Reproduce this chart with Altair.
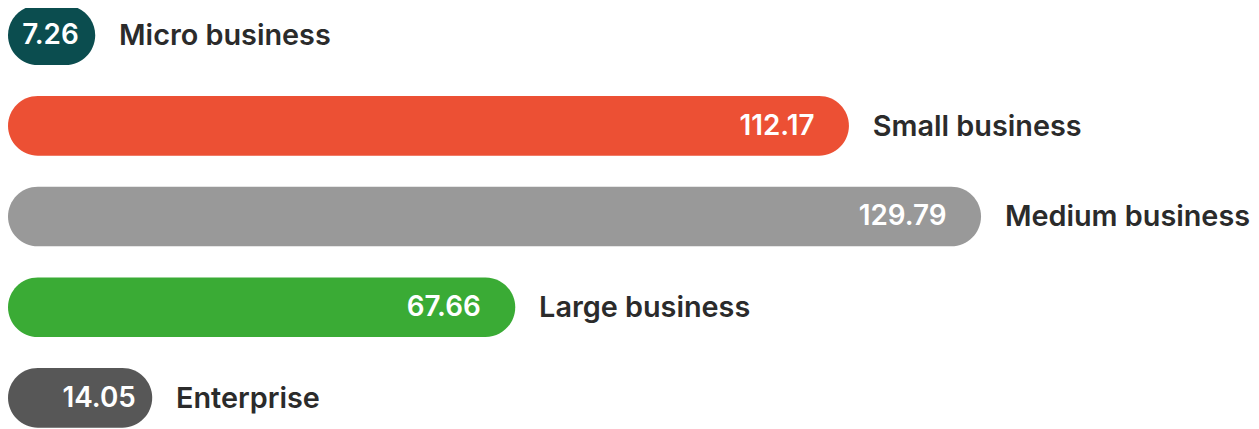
import altair as alt
import pandas as pd

categories = ["Micro business", "Small business", "Medium business", "Large business", "Enterprise"]
values = [7.26, 112.17, 129.79, 67.66, 14.05]
labels = ["7.26", "112.17", "129.79", "67.66", "14.05"]
colors = ["#0b4d4f", "#ec5034", "#999999", "#3aab35", "#575757"]

df = pd.DataFrame({"category": categories, "value": values, "label": labels})

base = alt.Chart(df).transform_calculate(
    end="datum.value < 20 ? datum.value * 1.12 + 3.5 : datum.value",
).transform_calculate(
    labelpos="datum.value < 20 ? datum.end - 2.2 : datum.end - 4.6",
    zero="0",
)

y = alt.Y("category:N", sort=categories, axis=None,
          scale=alt.Scale(paddingInner=0.3425, paddingOuter=0))
xscale = alt.Scale(domain=[0, 165.8], nice=False, zero=True)

bars = base.mark_bar(cornerRadius=30, yOffset=-4).encode(
    x=alt.X("zero:Q", scale=xscale, axis=None),
    x2="end:Q",
    y=y,
    color=alt.Color("category:N", scale=alt.Scale(domain=categories, range=colors), legend=None),
)

vals = base.mark_text(align="right", baseline="middle", color="white", font="Inter",
                      fontSize=28, fontWeight=600, dy=-3).encode(
    x=alt.X("labelpos:Q", scale=xscale, axis=None),
    y=y,
    text="label:N",
)

names = base.mark_text(align="left", baseline="middle", color="#2b2b2b", font="Inter",
                       fontSize=29, fontWeight=600, dx=24, dy=-3).encode(
    x=alt.X("end:Q", scale=xscale, axis=None),
    y=y,
    text="category:N",
)

chart = alt.layer(bars, vals, names).properties(
    width=1251, height=425, padding=0, autosize="none"
).configure_view(stroke=None)

chart.save("out.html", embed_options={"renderer": "svg", "actions": False})
